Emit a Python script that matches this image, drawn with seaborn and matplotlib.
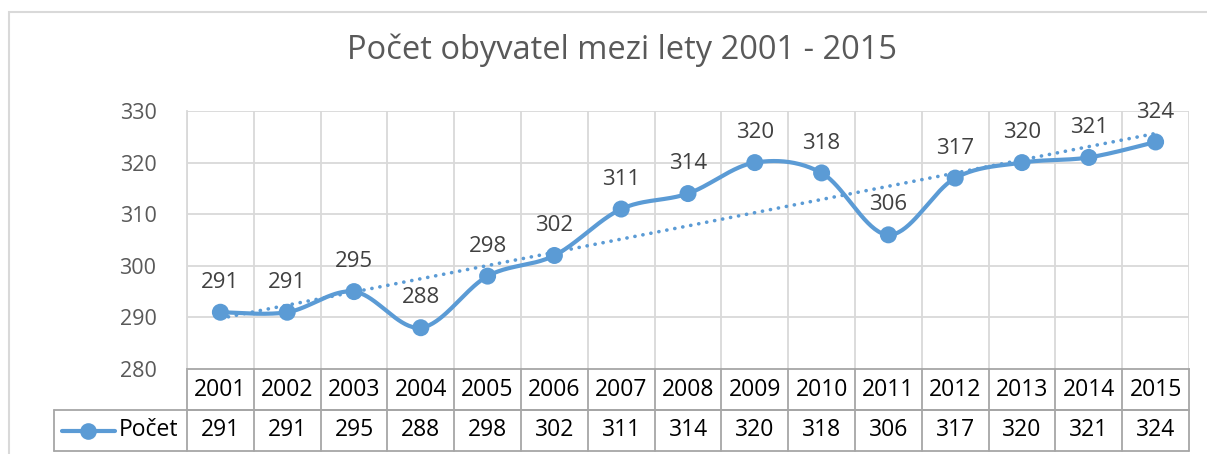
import numpy as np
import pandas as pd
import matplotlib
matplotlib.use("Agg")
import matplotlib.pyplot as plt
import seaborn as sns
from matplotlib.patches import Rectangle
from matplotlib.lines import Line2D
from matplotlib.transforms import blended_transform_factory

# ---- data ----
years = ["2001", "2002", "2003", "2004", "2005", "2006", "2007", "2008",
         "2009", "2010", "2011", "2012", "2013", "2014", "2015"]
pocet = [291, 291, 295, 288, 298, 302, 311, 314, 320, 318, 306, 317, 320, 321, 324]
y_ticks = [280, 290, 300, 310, 320, 330]
title = "Počet obyvatel mezi lety 2001 - 2015"
series_name = "Počet"

sns.set_theme(style="white")
plt.rcParams['font.family'] = ['Open Sans', 'DejaVu Sans']

W, H = 1207, 454
fig = plt.figure(figsize=(W / 100, H / 100), dpi=100)
fig.patch.set_facecolor("white")

def fx(px):
    return px / W

def fy(py):
    return 1 - py / H

L, R, T, B = 187, 1189, 111, 369
ax = fig.add_axes([fx(L), fy(B), fx(R) - fx(L), fy(T) - fy(B)])

BLUE = "#5B9BD5"
GRID = "#D9D9D9"
TBL = "#A6A6A6"

df = pd.DataFrame({"idx": np.arange(len(years)), "year": years, "pocet": pocet})

# smoothed curve (Catmull-Rom style Bezier, as Excel's smoothed line)
xs = df["idx"].to_numpy(float)
ys = df["pocet"].to_numpy(float)
n = len(xs)
sx, sy = [], []
t = np.linspace(0, 1, 40)
for i in range(n - 1):
    p0 = np.array([xs[i], ys[i]])
    p3 = np.array([xs[i + 1], ys[i + 1]])
    pm = np.array([xs[max(i - 1, 0)], ys[max(i - 1, 0)]])
    pp = np.array([xs[min(i + 2, n - 1)], ys[min(i + 2, n - 1)]])
    p1 = p0 + (p3 - pm) / 6
    p2 = p3 - (pp - p0) / 6
    pts = ((1 - t) ** 3)[:, None] * p0 + (3 * (1 - t) ** 2 * t)[:, None] * p1 \
        + (3 * (1 - t) * t ** 2)[:, None] * p2 + (t ** 3)[:, None] * p3
    sx.extend(pts[:, 0]); sy.extend(pts[:, 1])
smooth = pd.DataFrame({"x": sx, "y": sy})

sns.regplot(data=df, x="idx", y="pocet", ax=ax, scatter=False, ci=None, truncate=True,
            line_kws=dict(color=BLUE, lw=2.6, ls=(0, (0.05, 2.2)),
                          dash_capstyle="round", zorder=3))
sns.lineplot(data=smooth, x="x", y="y", ax=ax, color=BLUE, lw=3, sort=False,
             estimator=None, zorder=4)
sns.scatterplot(data=df, x="idx", y="pocet", ax=ax, color=BLUE, s=150,
                edgecolor="none", zorder=5, legend=False)

for xi, v in zip(xs, pocet):
    ax.annotate(str(v), (xi, v), xytext=(0, 21.5), textcoords="offset points",
                ha="center", va="center", fontsize=16, color="#404040", zorder=6)

ax.set_xlim(-0.5, n - 0.5)
ax.set_ylim(y_ticks[0], y_ticks[-1])
ax.set_yticks(y_ticks)
ax.set_yticklabels([str(v) for v in y_ticks], fontsize=15.5, color="#595959")
ax.tick_params(axis="y", length=0, pad=22)
ax.set_xticks([])
ax.set_xlabel("")
ax.set_ylabel("")
for v in y_ticks[1:]:
    ax.axhline(v, color=GRID, lw=1.3, zorder=1)
for k in range(n + 1):
    ax.axvline(k - 0.5, color=GRID, lw=1.3, zorder=1)
for s in ["top", "right"]:
    ax.spines[s].set_visible(False)
ax.spines["left"].set_color(GRID)
ax.spines["left"].set_linewidth(1.3)
ax.spines["bottom"].set_color(TBL)
ax.spines["bottom"].set_linewidth(1.3)

# ---- data table ----
ph = B - T
row1 = -(410 - B) / ph
row2 = -(451 - B) / ph
trX = blended_transform_factory(ax.transData, ax.transAxes)
trA = ax.transAxes
leg_left = (54 - L) / (R - L)

kw = dict(color=TBL, lw=1.3, clip_on=False, zorder=2)
ax.add_line(Line2D([0, 1], [row1, row1], transform=trA, **kw))
ax.add_line(Line2D([leg_left, 1], [row1, row1], transform=trA, **kw))
ax.add_line(Line2D([leg_left, 1], [row2, row2], transform=trA, **kw))
ax.add_line(Line2D([leg_left, leg_left], [row1, row2], transform=trA, **kw))
for k in range(n + 1):
    ax.add_line(Line2D([k - 0.5, k - 0.5], [0, row2], transform=trX, **kw))

for xi, yr, v in zip(xs, years, pocet):
    ax.text(xi, row1 / 2, yr, transform=trX, ha="center", va="center",
            fontsize=16.5, color="black")
    ax.text(xi, (row1 + row2) / 2, str(v), transform=trX, ha="center", va="center",
            fontsize=16.5, color="black")

ymid = (row1 + row2) / 2
lx0, lx1 = (62 - L) / (R - L), (115 - L) / (R - L)
ax.add_line(Line2D([lx0, lx1], [ymid, ymid], transform=trA, color=BLUE, lw=3,
                   clip_on=False))
ax.add_line(Line2D([(lx0 + lx1) / 2], [ymid], transform=trA, color=BLUE, marker="o",
                   markersize=12, markeredgewidth=0, clip_on=False))
ax.text((119 - L) / (R - L), ymid, series_name, transform=trA, ha="left", va="center",
        fontsize=16.5, color="black")

# ---- title & outer border ----
fig.text(fx(622), fy(50), title, ha="center", va="center", fontsize=23.5, color="#595959")
fig.patches.append(Rectangle((fx(9), fy(470)), fx(1230) - fx(9), fy(12) - fy(470),
                             transform=fig.transFigure, fill=False, edgecolor=GRID,
                             lw=1.5, zorder=0))

fig.savefig("out.png", dpi=100, facecolor="white")
